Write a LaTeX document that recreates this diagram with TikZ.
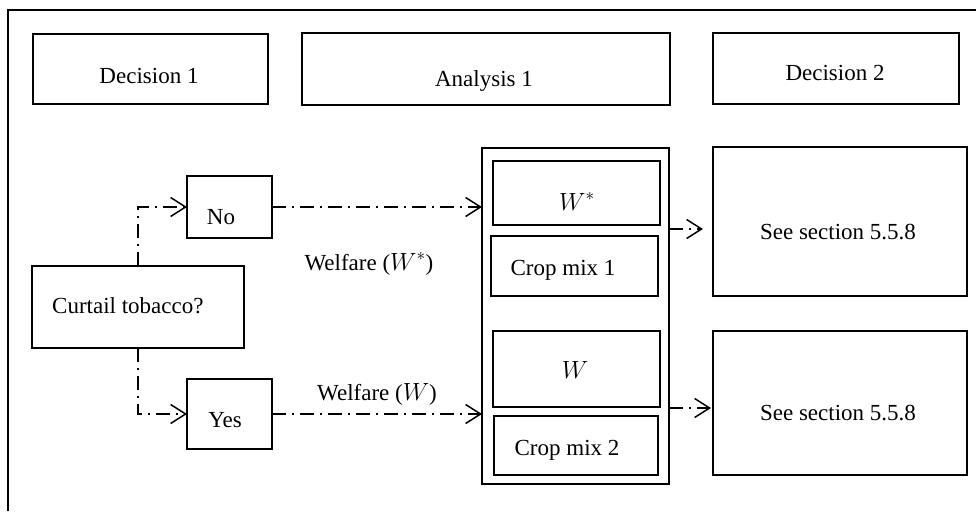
\documentclass[tikz,border=0pt]{standalone}
\usepackage{fontspec}
\setmainfont{Liberation Serif}
\usetikzlibrary{arrows.meta,fit}
\begin{document}
\begin{tikzpicture}[x=1pt,y=-1pt,
  box/.style={draw, line width=1.5pt, inner sep=0pt, outer sep=0pt},
  lbl/.style={inner sep=0pt, text height=16pt, text depth=0pt,
              font=\fontsize{23}{27}\selectfont},
  flow/.style={line width=1.5pt, dash pattern=on 14pt off 6pt on 2pt off 6pt,
               -{Straight Barb[length=15pt,width=19pt,line width=1.5pt]}}]
\useasboundingbox (0,0) rectangle (976,511);

% outer frame (open at right and bottom)
\draw[line width=1.6pt] (8,511) -- (8,10) -- (976,10);

% column headings
\node[box, fit={(33,34) (268,104)}] (dec1) {};
\node[box, fit={(302,33) (670,105)}] (ana1) {};
\node[box, fit={(713,33) (959,104)}] (dec2) {};
\node[lbl] (dec1t) at (149,75) {Decision 1};
\node[lbl] (ana1t) at (484,78) {Analysis 1};
\node[lbl] (dec2t) at (835,72) {Decision 2};

% first decision
\node[box, fit={(32,266) (244,348)}] (curt) {};
\node[lbl, anchor=west] (curtt) at (52,305) {Curtail tobacco?};
\node[box, fit={(187,176) (272,238)}] (no) {};
\node[lbl] (not) at (221,216) {No};
\node[box, fit={(187,379) (272,449)}] (yes) {};
\node[lbl] (yest) at (225,419) {Yes};

% analysis column
\node[box, fit={(482,148) (669,484)}] (cont) {};
\node[box, fit={(493,161) (660,225)}] (wstar) {};
\node[lbl] (wstart) at (577,202) {$W^*$};
\node[box, fit={(491,236) (658,296)}] (mix1) {};
\node[lbl] (mix1t) at (563,267) {Crop mix 1};
\node[box, fit={(493,331) (660,407)}] (wbox) {};
\node[lbl] (wboxt) at (575,370) {$W$};
\node[box, fit={(494,416) (658,475)}] (mix2) {};
\node[lbl] (mix2t) at (567,447) {Crop mix 2};

% second decision
\node[box, fit={(713,147) (967,296)}] (see1) {};
\node[lbl] (see1t) at (838,231) {See section 5.5.8};
\node[box, fit={(713,331) (967,475)}] (see2) {};
\node[lbl] (see2t) at (838,412) {See section 5.5.8};

% welfare labels
\node[lbl] (welfs) at (369,262) {Welfare ($W^*$)};
\node[lbl] (welf) at (377,392) {Welfare ($W$)};

% connectors
\draw[flow] (curt.north) |- (no.west);
\draw[flow] (curt.south) |- (yes.west);
\draw[flow] (no.east) -- (no.east -| cont.west);
\draw[flow] (yes.east) -- (yes.east -| cont.west);
\coordinate (e1) at (703,229);
\coordinate (e2) at (711,408);
\draw[flow] (cont.east |- e1) -- (e1);
\draw[flow] (cont.east |- e2) -- (e2);
\end{tikzpicture}
\end{document}
